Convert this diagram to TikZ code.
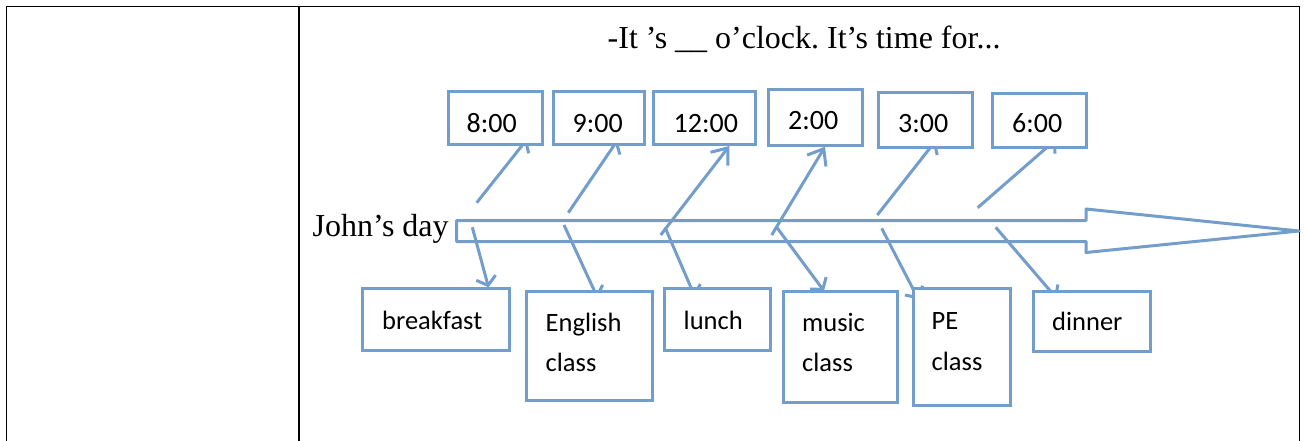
\documentclass[tikz,border=0pt]{standalone}
\usepackage{fontspec}
\setmainfont{Liberation Serif}
\newfontfamily\boxfont{Carlito}
\usetikzlibrary{arrows.meta,calc}
\pgfdeclarelayer{background}
\pgfsetlayers{background,main}
\definecolor{boxblue}{RGB}{115,157,202}
\frenchspacing
\begin{document}
\begin{tikzpicture}[x=1pt,y=-1pt,
  box/.style={rectangle,draw=boxblue,line width=3pt,fill=white,inner sep=0pt},
  conn/.style={draw=boxblue,line width=3pt,-{Straight Barb[length=8pt,width=20pt]}},
  hidden/.style={conn,shorten >=-4pt},
  connbig/.style={draw=boxblue,line width=3pt,-{Straight Barb[length=14pt,width=22pt]}},
  toptxt/.style={anchor=base west,inner sep=0pt,font=\boxfont\fontsize{28}{34}\selectfont},
  bottxt/.style={anchor=base west,inner sep=0pt,font=\boxfont\fontsize{26.5}{32}\selectfont},
  serif/.style={anchor=base west,inner sep=0pt,font=\fontsize{32}{38}\selectfont}]
\useasboundingbox (0,0) rectangle (1304,441);
% table
\draw[line width=1.6pt,black] (6.5,441) -- (6.5,6.5) -- (1299.5,6.5) -- (1299.5,441);
\draw[line width=1.6pt,black] (299,6.5) -- (299,441);
% title
\node[serif] (title) at (607.5,49) {-It ’s \_\_ o’clock. It’s time for...};
\node[serif] (john) at (312.5,236.7) {John’s day};
% block arrow
\draw[draw=boxblue,line width=3pt,line join=round]
  (456.7,220.5) -- (1086,220.5) -- (1086,209) -- (1299,231) -- (1086,252.5) -- (1086,241.5) -- (456.7,241.5) -- cycle;
% top boxes
\node[box,minimum width=94pt,minimum height=52.7pt] (b8) at (495.5,117.85) {};
\node[box,minimum width=91pt,minimum height=53pt] (b9) at (599,118) {};
\node[box,minimum width=102.3pt,minimum height=53pt] (b12) at (704.35,118) {};
\node[box,minimum width=94.3pt,minimum height=55.7pt] (b2) at (815.35,117.35) {};
\node[box,minimum width=94.3pt,minimum height=55.3pt] (b3) at (925.35,119.85) {};
\node[box,minimum width=94pt,minimum height=54.3pt] (b6) at (1039.2,120.35) {};
\node[toptxt] (t8) at (466.5,132.3) {8:00};
\node[toptxt] (t9) at (572.5,132.3) {9:00};
\node[toptxt] (t12) at (673.5,132.3) {12:00};
\node[toptxt] (t2) at (788,130) {2:00};
\node[toptxt] (t3) at (898,132.3) {3:00};
\node[toptxt] (t6) at (1012,132.3) {6:00};
% bottom boxes
\node[box,minimum width=146.7pt,minimum height=62pt] (bb) at (435.85,319.8) {};
\node[box,minimum width=126pt,minimum height=109.3pt] (be) at (589.5,346.15) {};
\node[box,minimum width=105.4pt,minimum height=61.4pt] (bl) at (717.5,319.5) {};
\node[box,minimum width=114.6pt,minimum height=111pt] (bm) at (840.5,347) {};
\node[box,minimum width=97.6pt,minimum height=116.4pt] (bp) at (962,347) {};
\node[box,minimum width=117.6pt,minimum height=60.3pt] (bd) at (1092,321.65) {};
\node[bottxt] (tb) at (382,329.3) {breakfast};
\node[bottxt] (te1) at (545.5,331) {English};
\node[bottxt] (te2) at (545.5,371.7) {class};
\node[bottxt] (tl) at (683.5,329.3) {lunch};
\node[bottxt] (tm1) at (802,331) {music};
\node[bottxt] (tm2) at (802,371.7) {class};
\node[bottxt] (tp1) at (931.5,329) {PE};
\node[bottxt] (tp2) at (931.5,370) {class};
\node[bottxt] (td) at (1052,330.7) {dinner};
% free ends of the connectors
\coordinate (s8) at (476.7,202.7);
\coordinate (s9) at (568.3,212.7);
\coordinate (s12) at (660.7,235);
\coordinate (s2) at (771.7,235);
\coordinate (s3) at (877.3,215);
\coordinate (s6) at (977.7,207.7);
\coordinate (sb) at (472.3,227.3);
\coordinate (se) at (564,225);
\coordinate (sl) at (665,227.3);
\coordinate (sm) at (776.7,227.3);
\coordinate (sp) at (881.7,228.3);
\coordinate (sd) at (995.7,227.3);
\begin{pgfonlayer}{background}
\draw[hidden] (s8) -- ($(b8.south west)+(77.5,-3.2)$);
\draw[hidden] (s9) -- ($(b9.south west)+(63,-2)$);
\draw[connbig] (s12) -- ($(b12.south west)+(77.6,0)$);
\draw[connbig] (s2) -- ($(b2.south west)+(58.3,0)$);
\draw[hidden] (s3) -- ($(b3.south west)+(56.3,-4.8)$);
\draw[hidden] (s6) -- ($(b6.south west)+(62.2,-6.8)$);
\draw[conn] (sb) -- ($(bb.north west)+(127.5,0)$);
\draw[hidden] (se) -- ($(be.north west)+(71.1,4.5)$);
\draw[hidden] (sl) -- ($(bl.north west)+(30.2,6.1)$);
\draw[conn] (sm) -- ($(bm.north west)+(42.3,1)$);
\draw[hidden] (sp) -- ($(bp.north west)+(4.8,8.4)$);
\draw[hidden] (sd) -- ($(bd.north west)+(22.5,5.5)$);
\end{pgfonlayer}
\end{tikzpicture}
\end{document}
